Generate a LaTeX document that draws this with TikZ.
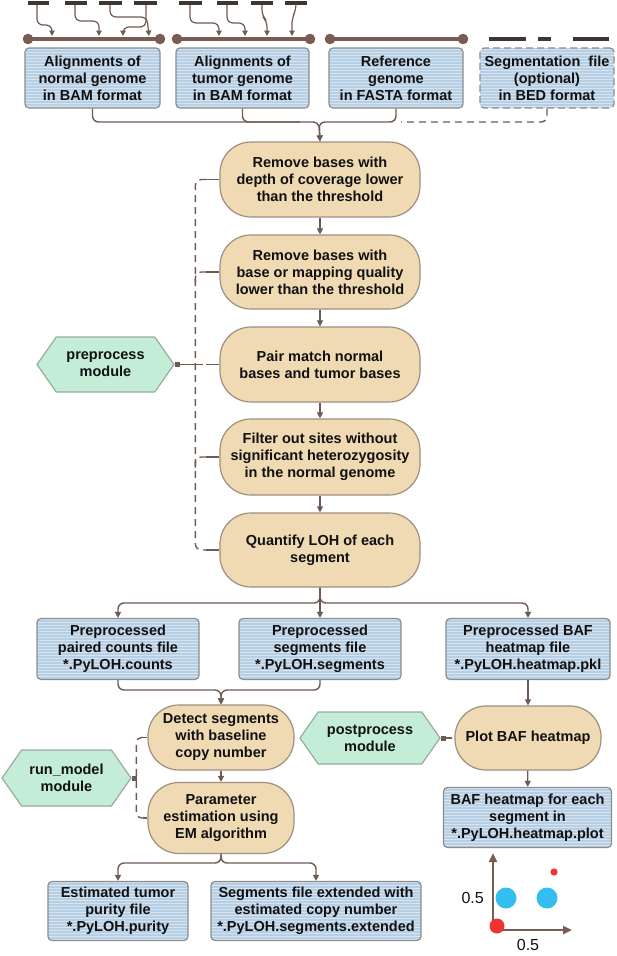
\documentclass[tikz,border=0pt]{standalone}
\usepackage{fontspec}
\setmainfont{Liberation Sans}
\usetikzlibrary{arrows.meta,shapes.symbols,calc}
\definecolor{connc}{HTML}{6F5A52}
\definecolor{barc}{HTML}{7A5C52}
\definecolor{readc}{HTML}{3D3632}
\definecolor{blueA}{HTML}{B7CFE5}
\definecolor{blueB}{HTML}{D6E4F0}
\definecolor{boxbd}{HTML}{8C8C8C}
\definecolor{tanF}{HTML}{EFDAB3}
\definecolor{tanB}{HTML}{A08E80}
\definecolor{grnF}{HTML}{C4EDD7}
\definecolor{grnB}{HTML}{97AC9E}
\definecolor{cyanc}{HTML}{33BEEF}
\definecolor{redc}{HTML}{EE3333}
\definecolor{txt}{HTML}{111111}
\tikzset{
 lbl/.style={font=\fontsize{14.5}{17}\selectfont\bfseries, text=txt, align=center, inner sep=0pt},
 filebox/.style={lbl, draw=boxbd, line width=1.2pt, rounded corners=4pt, fill=blueA,
   path picture={\foreach \k in {0,...,26}{\draw[blueB,solid,line width=1pt]
     ([yshift=-\k*3pt-1pt]path picture bounding box.north west) --
     ([yshift=-\k*3pt-1pt]path picture bounding box.north east);}}},
 stepbox/.style={lbl, draw=tanB, line width=1.2pt, fill=tanF, rounded corners=31pt},
 modbox/.style={lbl, shape=signal, signal to=west and east, signal pointer angle=110,
   draw=grnB, line width=1.2pt, fill=grnF},
 conn/.style={draw=connc, line width=1.4pt},
 arr/.style={-{Triangle[length=6pt,width=6pt]}},
 rarr/.style={draw=connc, line width=1.2pt, -{Triangle[length=5.5pt,width=5.5pt]}, rounded corners=6pt},
 dsh/.style={dash pattern=on 7pt off 5pt},
 sq/.style={{Square[length=5pt,width=5pt]}-},
 readseg/.style={draw=readc, line width=3.5pt},
 barseg/.style={draw=barc, line width=4.5pt},
 axis/.style={draw=barc, line width=2.5pt, -{Triangle[length=9pt,width=8pt]}},
 numlbl/.style={font=\fontsize{16}{18}\selectfont, text=txt, inner sep=0pt},
}
\begin{document}
\begin{tikzpicture}[x=1pt,y=-1pt]
\useasboundingbox (0,0) rectangle (616,956);

% ---- reads and alignment bars
\foreach \a/\b in {28/49,65/87,99/122,134/157,179/202,217/238,251/273,285/307}
  \draw[readseg] (\a,3) -- (\b,3);
\draw[barseg] (28,39) -- (160,39);
\fill[barc] (28,39) circle (5.3pt) (160,39) circle (5.3pt);
\draw[barseg] (177,39) -- (310,39);
\fill[barc] (177,39) circle (5.3pt) (310,39) circle (5.3pt);
\draw[barseg] (330,39) -- (463,39);
\fill[barc] (330,39) circle (5.3pt) (463,39) circle (5.3pt);
\draw[readc, line width=4pt] (489,39) -- (526,39) (538,39) -- (551,39) (573,39) -- (609,39);

\draw[rarr] (37,5) -- (37,25) -- (52,25) -- (52,36);
\draw[rarr] (75,5) -- (75,21) -- (99,21) -- (99,36);
\draw[rarr] (110,5) -- (110,17) -- (147,17) -- (149,36);
\draw[rarr] (146,5) -- (146,27) -- (123,27) -- (123,36);
\draw[rarr] (190,5) -- (190,23) -- (219,23) -- (219,36);
\draw[rarr] (227,5) -- (227,23) -- (245,23) -- (245,36);
\draw[rarr] (262,5) -- (262,16) -- (267,21) -- (267,36);
\draw[rarr] (296,5) -- (296,10) -- (292,18) -- (292,36);

% ---- input files
\node[filebox, minimum width=135pt, minimum height=60pt] (b1) at (92.5,78) {Alignments of\\normal genome\\in BAM format};
\node[filebox, minimum width=133pt, minimum height=60pt] (b2) at (242.5,78) {Alignments of\\tumor genome\\in BAM format};
\node[filebox, minimum width=134pt, minimum height=60pt] (b3) at (396,78) {Reference\\genome\\in FASTA format};
\node[filebox, dash pattern=on 7pt off 4pt, minimum width=134pt, minimum height=60pt] (b4) at (547,78) {Segmentation~ file\\(optional)\\in BED format};

% ---- preprocess steps
\node[stepbox, minimum width=200pt, minimum height=75pt] (r1) at (320,179.5) {Remove bases with\\depth of coverage lower\\than the threshold};
\node[stepbox, minimum width=200pt, minimum height=74pt] (r2) at (320,272) {Remove bases with\\base or mapping quality\\lower than the threshold};
\node[stepbox, minimum width=200pt, minimum height=75pt] (r3) at (320,364.5) {Pair match normal\\bases and tumor bases};
\node[stepbox, minimum width=200pt, minimum height=76pt] (r4) at (320,457) {Filter out sites without\\significant heterozygosity\\in the normal genome};
\node[stepbox, minimum width=200pt, minimum height=74pt] (r5) at (320,550) {Quantify LOH of each\\segment};
\node[modbox, minimum width=137pt, minimum height=55pt] (pre) at (105.5,364.5) {preprocess\\module};

% ---- preprocessed files
\node[filebox, minimum width=162pt, minimum height=61pt] (c1) at (118,649) {Preprocessed\\paired counts file\\*.PyLOH.counts};
\node[filebox, minimum width=162pt, minimum height=61pt] (c2) at (320,649) {Preprocessed\\segments file\\*.PyLOH.segments};
\node[filebox, minimum width=164pt, minimum height=61pt] (c3) at (528,649) {Preprocessed BAF\\heatmap file\\*.PyLOH.heatmap.pkl};

% ---- model / postprocess
\node[stepbox, minimum width=146pt, minimum height=65pt] (d1) at (221,737.5) {Detect segments\\with baseline\\copy number};
\node[stepbox, minimum width=146pt, minimum height=71pt] (d2) at (221,818) {Parameter\\estimation using\\EM algorithm};
\node[modbox, minimum width=129pt, minimum height=56pt] (rm) at (66.5,778) {run\_model\\module};
\node[modbox, minimum width=140pt, minimum height=52pt] (pp) at (370,738) {postprocess\\module};
\node[stepbox, minimum width=146pt, minimum height=64pt] (p) at (528,738) {Plot BAF heatmap};
\node[filebox, minimum width=168pt, minimum height=60pt] (bf) at (527.5,817.5) {BAF heatmap for each\\segment in\\*.PyLOH.heatmap.plot};
\node[filebox, minimum width=140pt, minimum height=59pt] (e1) at (118,911) {Estimated tumor\\purity file\\*.PyLOH.purity};
\node[filebox, minimum width=210pt, minimum height=59pt] (e2) at (316,911) {Segments file extended with\\estimated copy number\\*.PyLOH.segments.extended};

% ---- connectors: inputs to first step
\coordinate (j1) at (319,122);
\draw[conn, arr, rounded corners=6pt] (b1.south) |- (j1) -- (r1.north);
\draw[conn, rounded corners=6pt] (b2.south) |- (300,122);
\draw[conn, arr, rounded corners=6pt] (b3.south) |- (j1) -- (r1.north);
\draw[conn, dsh, rounded corners=6pt] (b4.south) |- (401,122);

\draw[conn, arr] (r1) -- (r2);
\draw[conn, arr] (r2) -- (r3);
\draw[conn, arr] (r3) -- (r4);
\draw[conn, arr] (r4) -- (r5);

% preprocess bracket
\foreach \n in {1,...,5} \draw[conn] (r\n.west) -- ++(-13,0) coordinate (s\n);
\draw[conn, dsh, rounded corners=6pt] (s1) -| ($(s5)+(-11,0)$) -- (s5);
\draw[conn, dsh, rounded corners=6pt] (s2) -| ($(s2)+(-11,12)$);
\draw[conn, dsh, rounded corners=6pt] (s4) -| ($(s4)+(-11,12)$);
\draw[conn, sq] (pre.east) -- ++(21,0) coordinate (pj);
\draw[conn, dsh] (pj) -- (s3);

% split to preprocessed files
\coordinate (j2) at (320,603);
\draw[conn, arr, rounded corners=6pt] (r5.south) |- (c1.north |- j2) -- (c1.north);
\draw[conn, arr, rounded corners=6pt] (r5.south) |- (c3.north |- j2) -- (c3.north);
\draw[conn, arr] (r5) -- (c2);

\coordinate (j3) at (221,690);
\draw[conn, arr, rounded corners=6pt] (c1.south) |- (j3) -- (d1.north);
\draw[conn, arr, rounded corners=6pt] (c2.south) |- (j3) -- (d1.north);
\draw[conn, arr] (c3) -- (p);
\draw[conn, arr] (d1) -- (d2);
\draw[conn, arr] (p) -- (bf);

\coordinate (j4) at (221,863);
\draw[conn, arr, rounded corners=6pt] (d2.south) |- (e1.north |- j4) -- (e1.north);
\draw[conn, arr, rounded corners=6pt] (d2.south) |- (e2.north |- j4) -- (e2.north);

% run_model bracket
\draw[conn] (d1.west) -- ++(-4,0) coordinate (t1);
\draw[conn] (d2.west) -- ++(-4,0) coordinate (t2);
\draw[conn, dsh, rounded corners=5pt] (t1) -| ($(t2)+(-7,0)$) -- (t2);
\draw[conn, sq] (rm.east) -- (rm.east -| 137,0);

% postprocess link
\draw[conn, dsh, sq] (pp.east) -- (p.west);

% ---- small BAF plot
\draw[axis] (493,932) -- (493,853);
\draw[axis] (491,930) -- (572,930);
\fill[cyanc] (506,898) circle (10.5pt) (547,898) circle (10.5pt);
\fill[redc] (554,872) circle (3.6pt);
\fill[redc] (497,926) circle (7.5pt);
\node[numlbl, anchor=east] (ly) at (484,898) {0.5};
\node[numlbl] (lx) at (528,945) {0.5};
\end{tikzpicture}
\end{document}
